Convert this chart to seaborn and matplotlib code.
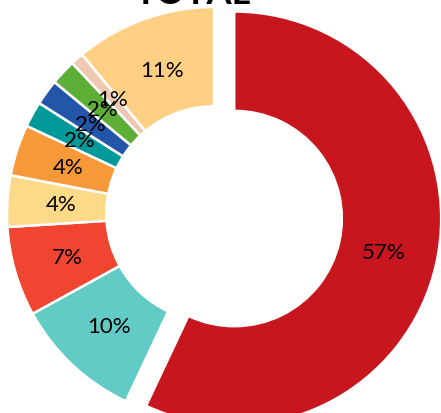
import matplotlib
matplotlib.use("Agg")
import matplotlib.pyplot as plt
import seaborn as sns

sns.set_theme(style="white")
plt.rcParams['font.family'] = ['Lato', 'DejaVu Sans']

# share of each category (clockwise from 12 o'clock)
labels = ["A", "B", "C", "D", "E", "F", "G", "H", "I", "J"]
shares = [57, 10, 7, 4, 4, 2, 2, 2, 1, 11]
colors = ["#C8161E", "#62CBC6", "#F04531", "#FDDA88", "#F89939",
          "#02999B", "#2356A8", "#5CAE37", "#EEC8B0", "#FFD084"]
explode = [0.1, 0, 0, 0, 0, 0, 0, 0, 0, 0]
title = "TOTAL"

fig = plt.figure(figsize=(4.41, 4.14), dpi=100)
ax = fig.add_axes([0, 0, 1, 1])

wedges, texts, autotexts = ax.pie(
    shares, colors=colors, explode=explode, startangle=90, counterclock=False,
    radius=1, autopct="%1.0f%%", pctdistance=0.74,
    wedgeprops=dict(width=0.48, edgecolor="white", linewidth=1.8),
    textprops=dict(fontsize=16, color="black"))

# the chart is cropped in the original, the ring runs off the edges
cx, cy, r = 214, 215, 207
ax.set_xlim(-cx / r, (441 - cx) / r)
ax.set_ylim(-(414 - cy) / r, cy / r)
ax.set_aspect("auto")
ax.axis("off")

fig.text(193 / 441, 1.0 + 6 / 414, title, ha="center", va="center",
         fontsize=26, fontweight="bold", color="black")

fig.savefig("out.png", dpi=100)
